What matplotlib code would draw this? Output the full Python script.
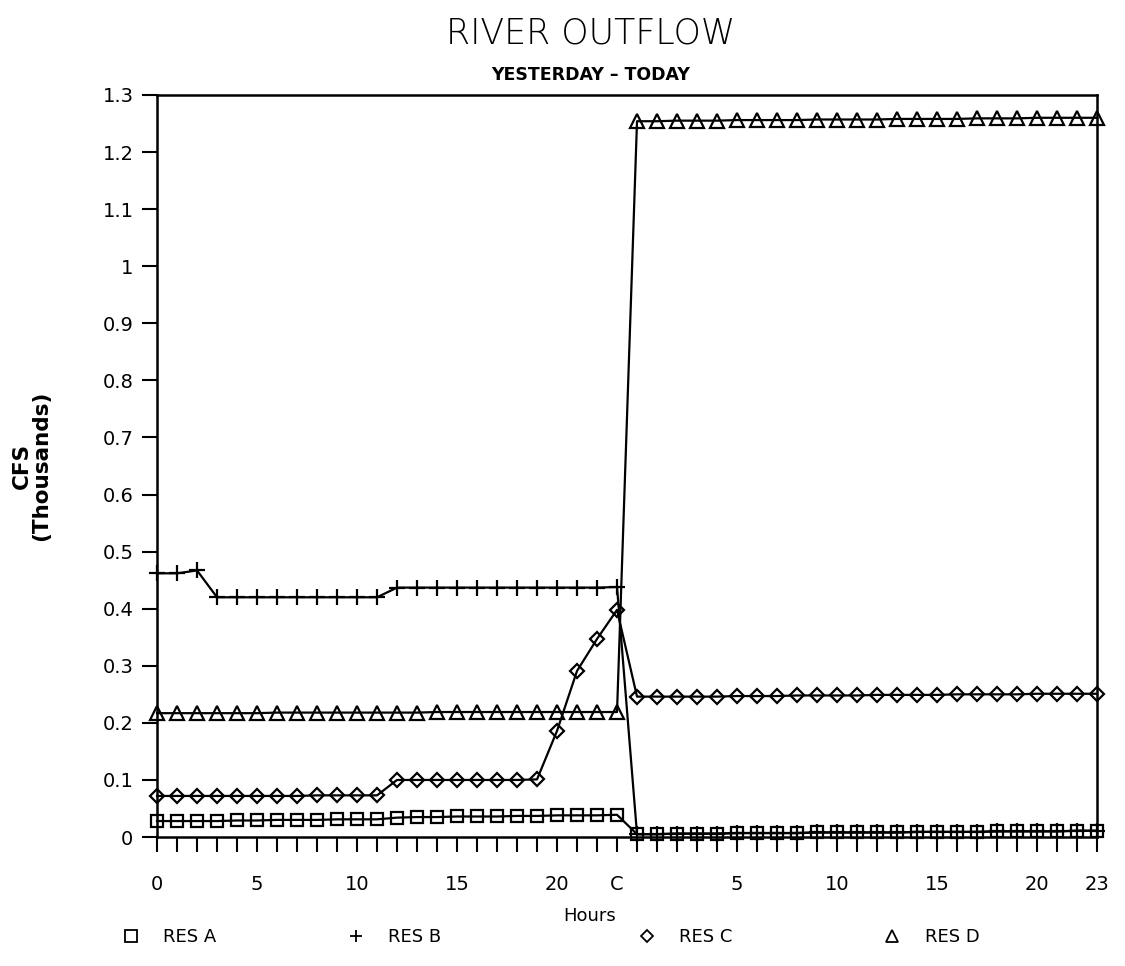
import matplotlib.pyplot as plt
from matplotlib.lines import Line2D

# hour index: 0-23 yesterday, 24-47 today
hours = list(range(48))

res_a = [0.028, 0.028, 0.028, 0.028, 0.029, 0.029, 0.030, 0.030, 0.030, 0.031, 0.031, 0.031,
         0.034, 0.035, 0.035, 0.036, 0.036, 0.036, 0.037, 0.037, 0.038, 0.038, 0.038, 0.039,
         0.005, 0.005, 0.006, 0.006, 0.006, 0.007, 0.007, 0.007, 0.007, 0.008, 0.008, 0.008,
         0.008, 0.008, 0.009, 0.009, 0.009, 0.009, 0.010, 0.010, 0.010, 0.010, 0.011, 0.011]
res_b = [0.462, 0.462, 0.467, 0.420, 0.420, 0.420, 0.420, 0.420, 0.420, 0.420, 0.420, 0.420,
         0.437, 0.437, 0.437, 0.437, 0.437, 0.437, 0.437, 0.437, 0.437, 0.437, 0.437, 0.438,
         0.005, 0.005, 0.006, 0.006, 0.006, 0.007, 0.007, 0.007, 0.007, 0.008, 0.008, 0.008,
         0.008, 0.008, 0.009, 0.009, 0.009, 0.009, 0.010, 0.010, 0.010, 0.010, 0.011, 0.011]
res_c = [0.072, 0.072, 0.072, 0.072, 0.072, 0.072, 0.072, 0.072, 0.073, 0.073, 0.073, 0.073,
         0.100, 0.100, 0.100, 0.100, 0.100, 0.100, 0.100, 0.101, 0.186, 0.291, 0.347, 0.398,
         0.246, 0.246, 0.246, 0.246, 0.246, 0.247, 0.247, 0.247, 0.248, 0.248, 0.248, 0.248,
         0.249, 0.249, 0.249, 0.249, 0.250, 0.250, 0.250, 0.250, 0.251, 0.251, 0.251, 0.251]
res_d = [0.217, 0.217, 0.217, 0.217, 0.217, 0.217, 0.218, 0.218, 0.218, 0.218, 0.218, 0.218,
         0.218, 0.218, 0.219, 0.219, 0.219, 0.219, 0.219, 0.219, 0.219, 0.219, 0.219, 0.219,
         1.254, 1.254, 1.255, 1.255, 1.255, 1.256, 1.256, 1.256, 1.256, 1.257, 1.257, 1.257,
         1.257, 1.258, 1.258, 1.258, 1.258, 1.259, 1.259, 1.259, 1.260, 1.260, 1.260, 1.260]

tick_pos = [0, 5, 10, 15, 20, 23, 29, 34, 39, 44, 47]
tick_labels = ['0', '5', '10', '15', '20', 'C', '5', '10', '15', '20', '23']
yticks = [0, 0.1, 0.2, 0.3, 0.4, 0.5, 0.6, 0.7, 0.8, 0.9, 1, 1.1, 1.2, 1.3]
ytick_labels = ['0', '0.1', '0.2', '0.3', '0.4', '0.5', '0.6', '0.7', '0.8', '0.9', '1', '1.1', '1.2', '1.3']

series = [(res_a, 's', 'RES A'), (res_b, '+', 'RES B'), (res_c, 'D', 'RES C'), (res_d, '^', 'RES D')]
sizes = {'s': 9, '+': 12, 'D': 7.5, '^': 10}

plt.rcParams['font.family'] = ['DejaVu Sans']

fig = plt.figure(figsize=(11.25, 9.66), dpi=100)
ax = fig.add_axes([0.1396, 0.1335, 0.8355, 0.7682])

for vals, m, name in series:
    ax.plot(hours, vals, color='black', linewidth=1.6, marker=m, markersize=sizes[m],
            markerfacecolor='none', markeredgecolor='black', markeredgewidth=1.6, clip_on=False)

ax.set_xlim(0, 47)
ax.set_ylim(0, 1.3)
ax.set_xticks(tick_pos)
ax.set_xticklabels(tick_labels)
ax.set_xticks(hours, minor=True)
ax.set_yticks(yticks)
ax.set_yticklabels(ytick_labels)
ax.tick_params(axis='x', which='both', direction='out', length=11, width=1.5, pad=16, labelsize=14)
ax.tick_params(axis='y', direction='out', length=11, width=1.5, pad=6, labelsize=14)
for s in ax.spines.values():
    s.set_linewidth(1.8)

ax.set_ylabel('CFS\n(Thousands)', fontsize=15.5, fontweight='bold', linespacing=0.95)
ax.yaxis.set_label_coords(-0.113, 0.5)

fig.text(0.525, 0.965, 'RIVER OUTFLOW', ha='center', va='center', fontsize=25, fontweight=200)
fig.text(0.525, 0.922, 'YESTERDAY \u2013 TODAY', ha='center', va='center', fontsize=12.5, fontweight='semibold')
fig.text(0.524, 0.052, 'Hours', ha='center', va='center', fontsize=13)

leg_x = [0.092, 0.292, 0.551, 0.769]
for (vals, m, name), lx in zip(series, leg_x):
    h = Line2D([], [], linestyle='none', marker=m, markersize=8 if m != 'D' else 6,
               markerfacecolor='none', markeredgecolor='black', markeredgewidth=1.3)
    fig.legend(handles=[h], labels=[name], loc='center left', bbox_to_anchor=(lx, 0.03),
               frameon=False, fontsize=13, handletextpad=1.2, handlelength=1.2)

fig.savefig('out.png', dpi=100)
